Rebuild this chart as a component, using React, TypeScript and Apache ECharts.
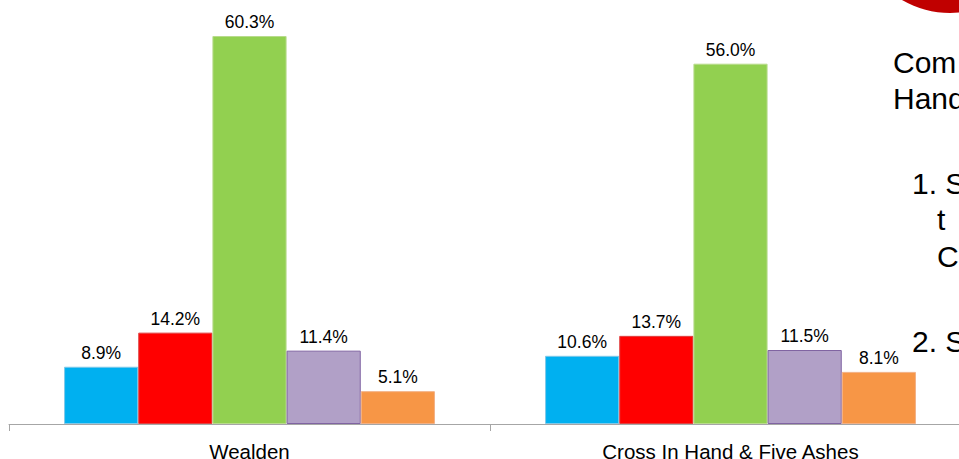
import React, { useEffect, useRef } from "react";
import * as echarts from "echarts";

const categories = ["Wealden", "Cross In Hand & Five Ashes"];
const seriesNames = ["Group 1", "Group 2", "Group 3", "Group 4", "Group 5"];
const series1 = [8.9, 10.6];
const series2 = [14.2, 13.7];
const series3 = [60.3, 56.0];
const series4 = [11.4, 11.5];
const series5 = [5.1, 8.1];
const seriesValues = [series1, series2, series3, series4, series5];
const seriesColors = ["#00B0F0", "#FF0000", "#92D050", "#B1A0C7", "#F79646"];
const seriesBorders = ["#7FC8E8", "#E04040", "#B8DB8C", "#8064A2", "#F2B084"];
const sideTexts = [
  { text: "Com", x: 893, y: 62 },
  { text: "Hand", x: 893, y: 98 },
  { text: "1. S", x: 912, y: 183 },
  { text: "t", x: 937, y: 219 },
  { text: "C", x: 937, y: 256 },
  { text: "2. S", x: 912, y: 341 },
];

export default function App() {
  const ref = useRef<HTMLDivElement>(null);
  useEffect(() => {
    if (!ref.current) return;
    const chart = echarts.init(ref.current, null, { renderer: "svg" });
    const font = "'Liberation Sans', Arial, sans-serif";
    chart.setOption({
      animation: false,
      backgroundColor: "#FFFFFF",
      grid: {
        left: 9,
        top: 0,
        width: 962,
        height: 424,
        containLabel: false,
        outerBoundsMode: "none",
      },
      xAxis: {
        type: "category",
        data: categories,
        axisLine: { lineStyle: { color: "#A6A6A6", width: 1 } },
        axisTick: { show: true, length: 7, lineStyle: { color: "#A6A6A6" } },
        axisLabel: { color: "#000000", fontSize: 20.5, fontFamily: font, margin: 17 },
      },
      yAxis: {
        type: "value",
        min: 0,
        max: 65.9,
        show: false,
        splitLine: { show: false },
      },
      series: seriesValues.map((vals, i) => ({
        type: "bar",
        name: seriesNames[i],
        data: vals,
        barGap: "0%",
        barCategoryGap: "22.9%",
        itemStyle: { color: seriesColors[i], borderColor: seriesBorders[i], borderWidth: 1 },
        label: {
          show: true,
          position: "top",
          distance: 5,
          formatter: (p: any) => p.value.toFixed(1) + "%",
          color: "#000000",
          fontSize: 17.5,
          fontFamily: font,
        },
      })),
      graphic: [
        {
          type: "circle",
          shape: { cx: 950, cy: -82, r: 95 },
          style: { fill: "#C00000" },
        },
        ...sideTexts.map((t) => ({
          type: "text",
          x: t.x,
          y: t.y,
          style: {
            text: t.text,
            fill: "#000000",
            fontSize: 30,
            fontFamily: font,
            verticalAlign: "middle",
            align: "left",
          },
        })),
      ],
    });
    return () => chart.dispose();
  }, []);
  return (
    <div
      ref={ref}
      style={{ position: "fixed", left: 0, top: 0, width: 959, height: 459 }}
    />
  );
}
